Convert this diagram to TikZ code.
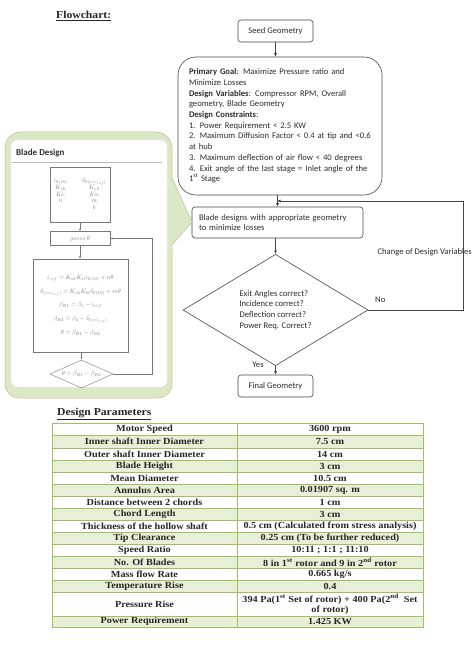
\documentclass[tikz,border=0pt]{standalone}
\usepackage{fontspec}
\usepackage{graphicx}
\setmainfont{Carlito}
\newfontfamily\tabfont[FakeStretch=1.1]{Liberation Serif}
\usetikzlibrary{shapes.geometric,arrows.meta}
\definecolor{boxgray}{RGB}{70,70,70}
\definecolor{textgray}{RGB}{45,45,45}
\definecolor{calloutfill}{RGB}{220,231,198}
\definecolor{calloutline}{RGB}{180,196,148}
\definecolor{bgray}{RGB}{120,120,120}
\definecolor{rowgreen}{RGB}{231,239,215}
\definecolor{tabline}{RGB}{160,190,100}
\newcommand\tabrow[6]{%
  \fill[#4] (52,#2) rectangle (423,#3);
  \node[tcell] (#1l) at (144.5,{(#2+#3)/2}) {#5};
  \node[tcell] (#1r) at (330,{(#2+#3)/2}) {#6};
}
\newcommand\bsc[1]{\scalebox{0.62}{#1}}
\tikzset{
  fbox/.style={draw=boxgray, rounded corners=3pt, line width=0.6pt, text=textgray,
    font=\fontsize{8.6}{10.7}\selectfont, inner sep=0pt},
  fdia/.style={draw=boxgray, diamond, line width=0.6pt, text=textgray, align=left,
    font=\fontsize{8.6}{10.7}\selectfont, inner sep=0pt},
  flabel/.style={text=textgray, font=\fontsize{8.6}{10}\selectfont, inner sep=0pt},
  arr/.style={-{Latex[length=3.5pt,width=3pt]}, line width=0.6pt, draw=boxgray},
  bbox/.style={draw=bgray, line width=0.4pt, text=bgray, inner sep=0pt},
  bdia/.style={draw=bgray, diamond, aspect=2.25, line width=0.4pt, text=bgray, inner sep=0pt},
  barr/.style={-{Latex[length=2.5pt,width=2pt]}, line width=0.4pt, draw=bgray},
  tcell/.style={font=\tabfont\bfseries\fontsize{9.3}{10}\selectfont, text=black!85, inner sep=0pt, align=center},
  ttitle/.style={font=\tabfont\bfseries\fontsize{10.6}{12}\selectfont, text=black!85, inner sep=0pt, anchor=west}
}
\begin{document}
\begin{tikzpicture}[x=1pt,y=-1pt]
\useasboundingbox (0,0) rectangle (474,652);
\fill[white] (0,0) rectangle (474,652);

% title
\node[ttitle] (ftitle) at (56,16) {\underline{Flowchart:}};

% main flowchart
\node[fbox, minimum width=75pt, minimum height=22pt] (seed) at (275.5,31) {Seed Geometry};
\node[fbox, rounded corners=18pt, text width=182pt, inner xsep=11pt, minimum height=138pt, align=left] (goal) at (280,126)
 {\textbf{Primary Goal}: Maximize Pressure ratio and\\
  Minimize Losses\\
  \textbf{Design Variables}: Compressor RPM, Overall\\
  geometry, Blade Geometry\\
  \textbf{Design Constraints}:\\
  1. Power Requirement < 2.5 KW\\
  2. Maximum Diffusion Factor < 0.4 at tip and <0.6\\
  at hub\\
  3. Maximum deflection of air flow < 40 degrees\\
  4. Exit angle of the last stage = Inlet angle of the\\
  1\textsuperscript{st} Stage};
\node[fbox, text width=157pt, inner xsep=7pt, minimum height=31pt, align=left] (blade) at (277.5,222.5)
 {Blade designs with appropriate geometry\\to minimize losses};
\node[fdia, minimum width=185pt, minimum height=96pt] (dia) at (275.5,310)
 {Exit Angles correct?\\Incidence correct?\\Deflection correct?\\Power Req. Correct?};
\node[fbox, minimum width=75pt, minimum height=22pt] (final) at (275.5,386) {Final Geometry};

\coordinate (fb) at (277,201);
\coordinate (fbr) at (463,310);
\draw[arr] (seed.south) -- (seed.south |- goal.north);
\draw[arr] (goal.south -| blade.north) -- (blade.north);
\draw[arr] (blade.south -| dia.north) -- (dia.north);
\draw[arr] (dia.south) -- (dia.south |- final.north);
\draw[arr] (dia.east) -- (fbr) |- (fb);

\node[flabel, anchor=west] (no) at (375,300) {No};
\node[flabel, anchor=east] (chg) at (472,252) {Change of Design Variables};
\node[flabel] (yes) at (258,365) {Yes};

% Blade design callout
\path[fill=calloutfill, draw=calloutline, line width=0.5pt]
  [rounded corners=16pt] (5,220) -- (5,132) -- (172,132) -- (172,165)
  [sharp corners] -- (172,178) -- (192,222) -- (172,245)
  [rounded corners=14pt] -- (172,398) -- (5,398) -- cycle;
\fill[white, rounded corners=7pt] (11,140) rectangle (167,387);
\node[anchor=west, inner sep=0pt, text=textgray, font=\bfseries\fontsize{9}{10}\selectfont] (bdtitle) at (16,153) {Blade Design};
\draw[gray!55, line width=0.7pt] (12,162) -- (162,162);

\node[bbox, minimum width=60pt, minimum height=55pt] (b1) at (80,194.5)
 {\bsc{\renewcommand{\arraystretch}{0.9}$\begin{array}{@{}c@{\hspace{24pt}}c@{}}
  i_{0(10)} & \delta_{0(i=i_{ref})}\\
  K_{sh} & K_{sh}\\
  K_{ti} & K_{\delta t}\\
  n & m\\
   & b
 \end{array}$}};
\node[bbox, minimum width=60pt, minimum height=14pt] (b2) at (80,238.5)
 {\bsc{$guess\ \theta$}};
\node[bbox, minimum width=95pt, minimum height=93pt] (b3) at (80.5,305.5)
 {\bsc{$\begin{array}{c}
  i_{ref}=K_{sh}K_{ti}i_{0(10)}+n\theta\\[10pt]
  \delta_{(i=i_{ref})}=K_{sh}K_{\delta t}\delta_{0(10)}+m\theta\\[10pt]
  \beta_{B1}=\beta_1-i_{ref}\\[10pt]
  \beta_{B2}=\beta_2-\delta_{(i=i_{ref})}\\[10pt]
  \theta=\beta_{B1}-\beta_{B2}
  \end{array}$}};
\node[bdia, minimum width=63pt, minimum height=28pt] (b4) at (81.5,374)
 {\bsc{$\theta=\beta_{B1}-\beta_{B2}$}};
\coordinate (bl) at (152,374);
\draw[barr] (b1.south) -- (b2.north);
\draw[barr] (b2.south) -- (b2.south |- b3.north);
\draw[barr] (b3.south -| b4.north) -- (b4.north);
\draw[barr] (b4.east) -- (bl) |- (b2.east);

% Design parameters table
\node[ttitle] (dtitle) at (57,414) {\underline{Design Parameters}};
\tabrow{r1}{423}{435}{white}{Motor Speed}{3600 rpm}
\tabrow{r2}{435}{448}{rowgreen}{Inner shaft Inner Diameter}{7.5 cm}
\tabrow{r3}{448}{460}{white}{Outer shaft Inner Diameter}{14 cm}
\tabrow{r4}{460}{472}{rowgreen}{Blade Height}{3 cm}
\tabrow{r5}{472}{484}{white}{Mean Diameter}{10.5 cm}
\tabrow{r6}{484}{496}{rowgreen}{Annulus Area}{0.01907 sq. m}
\tabrow{r7}{496}{508}{white}{Distance between 2 chords}{1 cm}
\tabrow{r8}{508}{520}{rowgreen}{Chord Length}{3 cm}
\tabrow{r9}{520}{532}{white}{Thickness of the hollow shaft}{0.5 cm (Calculated from stress analysis)}
\tabrow{r10}{532}{544}{rowgreen}{Tip Clearance}{0.25 cm (To be further reduced)}
\tabrow{r11}{544}{556}{white}{Speed Ratio}{10:11 ; 1:1 ; 11:10}
\tabrow{r12}{556}{568}{rowgreen}{No. Of Blades}{8 in 1\textsuperscript{st} rotor and 9 in 2\textsuperscript{nd} rotor}
\tabrow{r13}{568}{580}{white}{Mass flow Rate}{0.665 kg/s}
\tabrow{r14}{580}{592}{rowgreen}{Temperature Rise}{0.4}
\tabrow{r15}{592}{616}{white}{Pressure Rise}{394 Pa(1\textsuperscript{st} Set of rotor) + 400 Pa(2\textsuperscript{nd}\ \ Set\\of rotor)}
\tabrow{r16}{616}{627}{rowgreen}{Power Requirement}{1.425 KW}
\foreach \yy in {435,448,460,472,484,496,508,520,532,544,556,568,580,592,616}
  \draw[tabline, line width=0.6pt] (52,\yy) -- (423,\yy);
\draw[tabline, line width=0.6pt] (237,423) -- (237,627);
\draw[tabline, line width=1pt] (52,423) rectangle (423,627);
\end{tikzpicture}
\end{document}
